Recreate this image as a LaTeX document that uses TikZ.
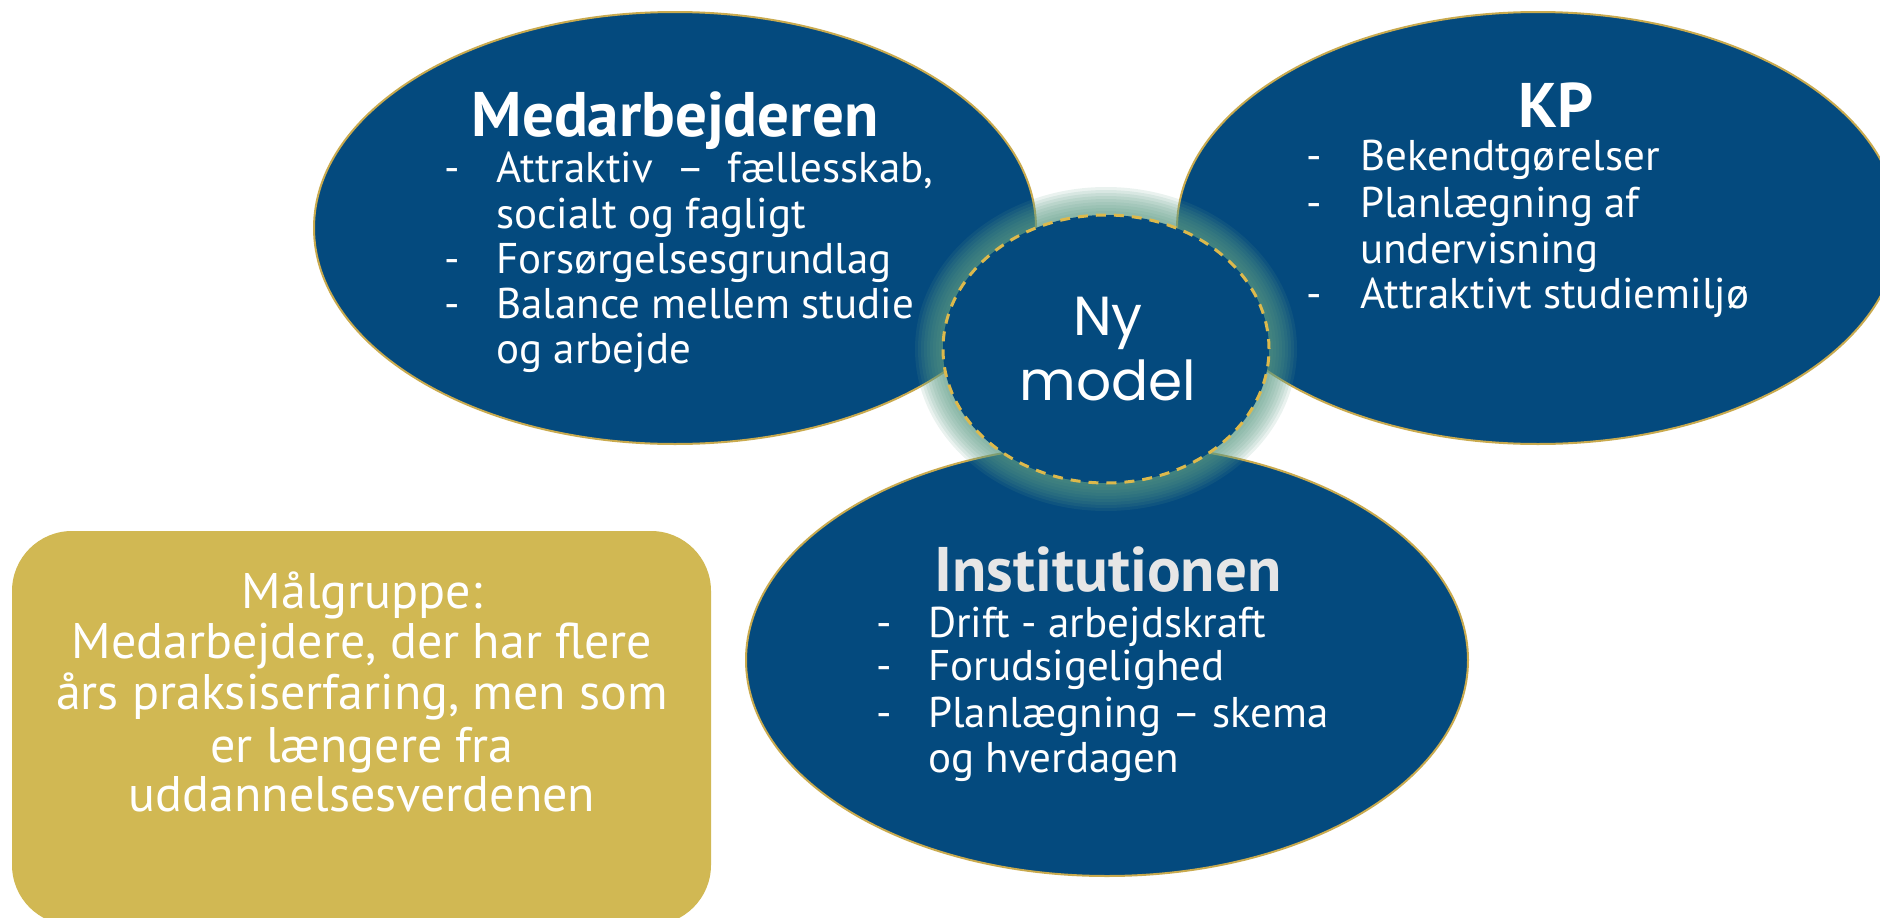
\documentclass[tikz,border=0pt]{standalone}
\usepackage{fontspec}
\setmainfont{PT Sans}
\newfontfamily\geo{Poppins}
\usetikzlibrary{shapes.geometric}
\definecolor{navy}{HTML}{044A7E}
\definecolor{goldline}{HTML}{C9AA4E}
\definecolor{dashgold}{HTML}{DDB94C}
\definecolor{goldfill}{HTML}{D1B853}
\definecolor{glowc}{HTML}{5E9C86}
\definecolor{inst}{HTML}{E6E6E6}
\begin{document}
\begin{tikzpicture}[x=1pt,y=-1pt,
  bubble/.style={ellipse, draw=goldline, line width=2pt, fill=navy,
    minimum width=722pt, minimum height=432pt, inner sep=0pt},
  title/.style={anchor=base, text=white, inner sep=0pt, font=\fontsize{63}{70}\selectfont\bfseries},
  item/.style={anchor=base west, text=white, inner sep=0pt, font=\fontsize{43}{48}\selectfont},
  goal/.style={anchor=base, text=white, inner sep=0pt, font=\fontsize{50}{56}\selectfont}
]
\useasboundingbox (0,0) rectangle (1880,918);
\clip (0,0) rectangle (1880,918);

% target group box
\node[draw=none, fill=goldfill, rounded corners=60pt, minimum width=699pt,
  minimum height=394pt, inner sep=0pt] (box) at (361.5,728) {};
\node[goal] (g1) at (362,608) {Målgruppe:};
\node[goal] (g2) at (362,658) {Medarbejdere, der har flere};
\node[goal] (g3) at (362,709) {års praksiserfaring, men som};
\node[goal] (g4) at (362,762) {er længere fra};
\node[goal] (g5) at (362,811) {uddannelsesverdenen};

% three big bubbles
\node[bubble] (med) at (675,228) {};
\node[bubble] (kp) at (1538,228) {};
\node[bubble] (inst) at (1107,660) {};

% glow around centre
\foreach \k in {28,25,...,1}
  \fill[glowc, opacity=0.13] (1106,349) ellipse[x radius=163+\k, y radius=134+\k];
\node[ellipse, fill=navy, draw=dashgold, line width=3pt, dash pattern=on 10pt off 8pt,
  minimum width=326pt, minimum height=268pt, inner sep=0pt] (ny) at (1106,349) {};
\node[anchor=base, text=white, inner sep=0pt, font=\geo\fontsize{55}{60}\selectfont] (ny1) at (1108,335) {Ny};
\node[anchor=base, text=white, inner sep=0pt, font=\geo\fontsize{55}{60}\selectfont] (ny2) at (1108,400) {model};

% Medarbejderen
\node[title] (medt) at (675,136) {Medarbejderen};
\node[item] (m1d) at (444,182) {-};
\node[item] (m1) at (496,182) {Attraktiv\ \ –\ \ fællesskab,};
\node[item] (m2) at (496,228) {socialt og fagligt};
\node[item] (m3d) at (444,273) {-};
\node[item] (m3) at (496,273) {Forsørgelsesgrundlag};
\node[item] (m4d) at (444,318) {-};
\node[item] (m4) at (496,318) {Balance mellem studie};
\node[item] (m5) at (496,363) {og arbejde};

% KP
\node[title] (kpt) at (1556,127) {KP};
\node[item] (k1d) at (1306,170) {-};
\node[item] (k1) at (1360,170) {Bekendtgørelser};
\node[item] (k2d) at (1306,217) {-};
\node[item] (k2) at (1360,217) {Planlægning af};
\node[item] (k3) at (1360,263) {undervisning};
\node[item] (k4d) at (1306,308) {-};
\node[item] (k4) at (1360,308) {Attraktivt studiemiljø};

% Institutionen
\node[title, text=inst] (instt) at (1108,591) {Institutionen};
\node[item] (i1d) at (876,637) {-};
\node[item] (i1) at (928,637) {Drift - arbejdskraft};
\node[item] (i2d) at (876,680) {-};
\node[item] (i2) at (928,680) {Forudsigelighed};
\node[item] (i3d) at (876,727) {-};
\node[item] (i3) at (928,727) {Planlægning – skema};
\node[item] (i4) at (928,772) {og hverdagen};
\end{tikzpicture}
\end{document}
